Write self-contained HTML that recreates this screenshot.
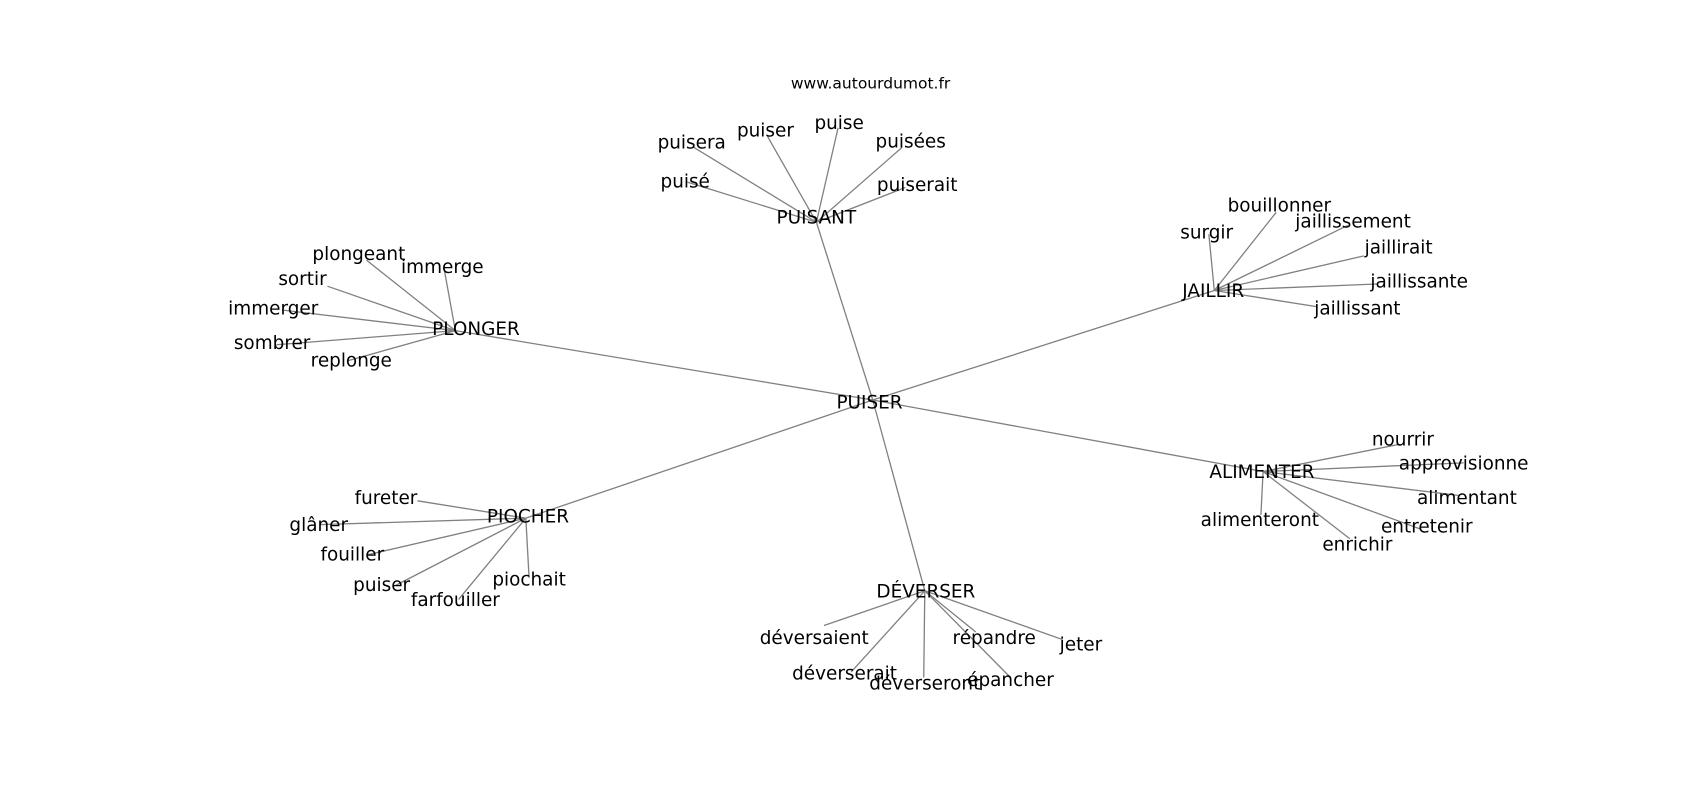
<!DOCTYPE html>
<html><head><meta charset="utf-8"><style>html,body{margin:0;padding:0;background:#fff}svg{display:block}text{font-family:"DejaVu Sans","Liberation Sans",sans-serif;fill:#000}</style></head>
<body>
<svg width="1700" height="800" viewBox="0 0 1568 738" preserveAspectRatio="none" xmlns="http://www.w3.org/2000/svg">
<defs><clipPath id="c"><rect x="0" y="0" width="1410" height="738"/></clipPath></defs>
<g stroke="#808080" stroke-width="1.2" fill="none">
<line x1="805" y1="369" x2="753" y2="205"/>
<line x1="805" y1="369" x2="1120" y2="268"/>
<line x1="805" y1="369" x2="420" y2="305"/>
<line x1="805" y1="369" x2="485" y2="478"/>
<line x1="805" y1="369" x2="1165" y2="435"/>
<line x1="805" y1="369" x2="853" y2="545"/>
<line x1="753" y1="205" x2="640" y2="136"/>
<line x1="753" y1="205" x2="708" y2="126"/>
<line x1="753" y1="205" x2="773" y2="118"/>
<line x1="753" y1="205" x2="832" y2="136"/>
<line x1="753" y1="205" x2="835" y2="173"/>
<line x1="753" y1="205" x2="634" y2="168"/>
<line x1="1120" y1="268" x2="1177" y2="196"/>
<line x1="1120" y1="268" x2="1115" y2="216"/>
<line x1="1120" y1="268" x2="1243" y2="208"/>
<line x1="1120" y1="268" x2="1258" y2="236"/>
<line x1="1120" y1="268" x2="1270" y2="262"/>
<line x1="1120" y1="268" x2="1215" y2="283"/>
<line x1="420" y1="305" x2="338" y2="240"/>
<line x1="420" y1="305" x2="410" y2="250"/>
<line x1="420" y1="305" x2="302" y2="264"/>
<line x1="420" y1="305" x2="260" y2="286"/>
<line x1="420" y1="305" x2="255" y2="318"/>
<line x1="420" y1="305" x2="320" y2="333"/>
<line x1="485" y1="478" x2="385" y2="462"/>
<line x1="485" y1="478" x2="295" y2="484"/>
<line x1="485" y1="478" x2="338" y2="512"/>
<line x1="485" y1="478" x2="365" y2="540"/>
<line x1="485" y1="478" x2="423" y2="553"/>
<line x1="485" y1="478" x2="488" y2="533"/>
<line x1="1165" y1="435" x2="1290" y2="410"/>
<line x1="1165" y1="435" x2="1350" y2="427"/>
<line x1="1165" y1="435" x2="1345" y2="457"/>
<line x1="1165" y1="435" x2="1310" y2="488"/>
<line x1="1165" y1="435" x2="1245" y2="497"/>
<line x1="1165" y1="435" x2="1163" y2="475"/>
<line x1="853" y1="545" x2="760" y2="577"/>
<line x1="853" y1="545" x2="785" y2="620"/>
<line x1="853" y1="545" x2="852" y2="625"/>
<line x1="853" y1="545" x2="900" y2="583"/>
<line x1="853" y1="545" x2="932" y2="625"/>
<line x1="853" y1="545" x2="980" y2="590"/>
</g>
<text x="803" y="77" font-size="14.3" text-anchor="middle" dominant-baseline="central">www.autourdumot.fr</text>
<g font-size="17" text-anchor="middle" dominant-baseline="central" clip-path="url(#c)" transform="translate(0,1)">
<text x="802" y="371">PUISER</text>
<text x="753" y="200">PUISANT</text>
<text x="1119" y="268">JAILLIR</text>
<text x="439" y="303">PLONGER</text>
<text x="487" y="476">PIOCHER</text>
<text x="1164" y="435">ALIMENTER</text>
<text x="854" y="545">DÉVERSER</text>
<text x="638" y="131">puisera</text>
<text x="706" y="120">puiser</text>
<text x="774" y="113">puise</text>
<text x="840" y="130">puisées</text>
<text x="846" y="170">puiserait</text>
<text x="632" y="167">puisé</text>
<text x="1180" y="189">bouillonner</text>
<text x="1113" y="214">surgir</text>
<text x="1248" y="204">jaillissement</text>
<text x="1290" y="228">jaillirait</text>
<text x="1309" y="259">jaillissante</text>
<text x="1252" y="284">jaillissant</text>
<text x="331" y="234">plongeant</text>
<text x="408" y="246">immerge</text>
<text x="279" y="257">sortir</text>
<text x="252" y="284">immerger</text>
<text x="251" y="316">sombrer</text>
<text x="324" y="332">replonge</text>
<text x="356" y="459">fureter</text>
<text x="294" y="484">glâner</text>
<text x="325" y="511">fouiller</text>
<text x="352" y="539">puiser</text>
<text x="420" y="553">farfouiller</text>
<text x="488" y="534">piochait</text>
<text x="1294" y="405">nourrir</text>
<text x="1350" y="427">approvisionne</text>
<text x="1353" y="459">alimentant</text>
<text x="1316" y="485">entretenir</text>
<text x="1252" y="502">enrichir</text>
<text x="1162" y="479">alimenteront</text>
<text x="751" y="588">déversaient</text>
<text x="779" y="621">déverserait</text>
<text x="853" y="630">déverseront</text>
<text x="917" y="588">répandre</text>
<text x="932" y="627">épancher</text>
<text x="997" y="594">jeter</text>
</g>
</svg>
</body></html>
